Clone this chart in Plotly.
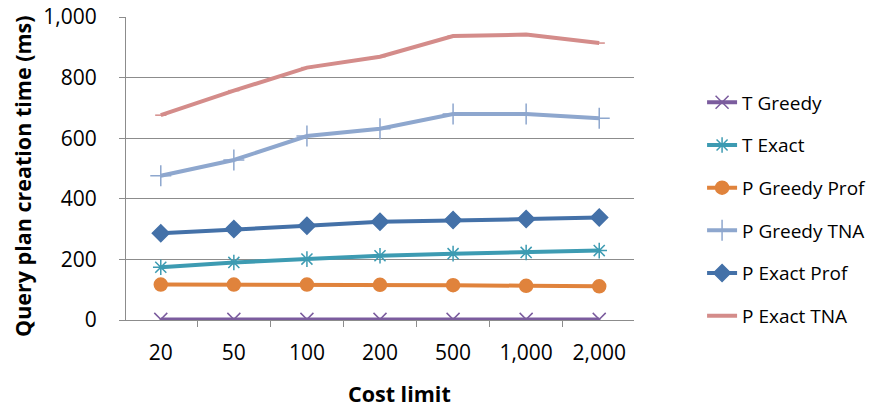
import plotly.graph_objects as go

categories = ["20", "50", "100", "200", "500", "1,000", "2,000"]

t_greedy = [2, 2, 2, 2, 2, 2, 2]
t_exact = [174, 190, 201, 212, 219, 223, 229]
p_greedy_prof = [117, 117, 117, 116, 115, 113, 111]
p_greedy_tna = [476, 528, 607, 631, 680, 680, 666]
p_exact_prof = [286, 300, 311, 324, 330, 333, 338]
p_exact_tna = [676, 757, 833, 869, 937, 942, 914]

series = [
    ("T Greedy", t_greedy, "#7B5C9E", "x-thin-open", 13),
    ("T Exact", t_exact, "#3D9BB2", "asterisk-open", 13),
    ("P Greedy Prof", p_greedy_prof, "#E0833C", "circle", 13),
    ("P Greedy TNA", p_greedy_tna, "#8EA7CE", "cross-thin-open", 15),
    ("P Exact Prof", p_exact_prof, "#4471A8", "diamond", 13),
    ("P Exact TNA", p_exact_tna, "#D48C8A", "line-ew-open", 8),
]

FONT = "Open Sans"

fig = go.Figure()
for i, (name, vals, color, sym, size) in enumerate(series):
    fig.add_trace(go.Scatter(
        x=categories, y=vals, name=name, mode="lines+markers",
        legendgroup=f"g{i}",
        line=dict(color=color, width=4),
        marker=dict(symbol=sym, size=size, color=color,
                    line=dict(color=color, width=1.5)),
    ))

fig.update_layout(
    width=893, height=407,
    margin=dict(l=126, r=259, t=17, b=87, autoexpand=False),
    paper_bgcolor="white", plot_bgcolor="white",
    font=dict(family=FONT, size=20, color="#000000"),
    showlegend=True,
    legend=dict(
        x=1.134, xanchor="left", y=0.365, yanchor="middle",
        font=dict(family=FONT, size=19, color="#000000"),
        tracegroupgap=15, traceorder="grouped",
        itemwidth=30, bgcolor="rgba(0,0,0,0)",
    ),
    xaxis=dict(
        type="category", showgrid=False, automargin=False,
        showline=True, linecolor="#8C8C8C", linewidth=1,
        ticks="outside", ticklen=6, tickcolor="#8C8C8C", tickson="boundaries",
        ticklabelstandoff=14,
        tickfont=dict(family=FONT, size=21),
    ),
    yaxis=dict(
        range=[0, 1000], tickvals=[0, 200, 400, 600, 800, 1000],
        tickformat=",d", automargin=False,
        showgrid=True, gridcolor="#8C8C8C", gridwidth=1,
        showline=True, linecolor="#8C8C8C", linewidth=1,
        ticks="outside", ticklen=6, tickcolor="#8C8C8C",
        ticklabelstandoff=18, zeroline=False,
        tickfont=dict(family=FONT, size=21),
    ),
    annotations=[
        dict(text="<b>Query plan creation time (ms)</b>", xref="paper", yref="paper",
             x=-0.205, y=0.475, xanchor="center", yanchor="middle", textangle=-90,
             showarrow=False, font=dict(family=FONT, size=21.5)),
        dict(text="<b>Cost limit</b>", xref="paper", yref="paper",
             x=0.539, y=-0.241, xanchor="center", yanchor="middle",
             showarrow=False, font=dict(family=FONT, size=21.5)),
    ],
)

fig.write_html("out.html")
